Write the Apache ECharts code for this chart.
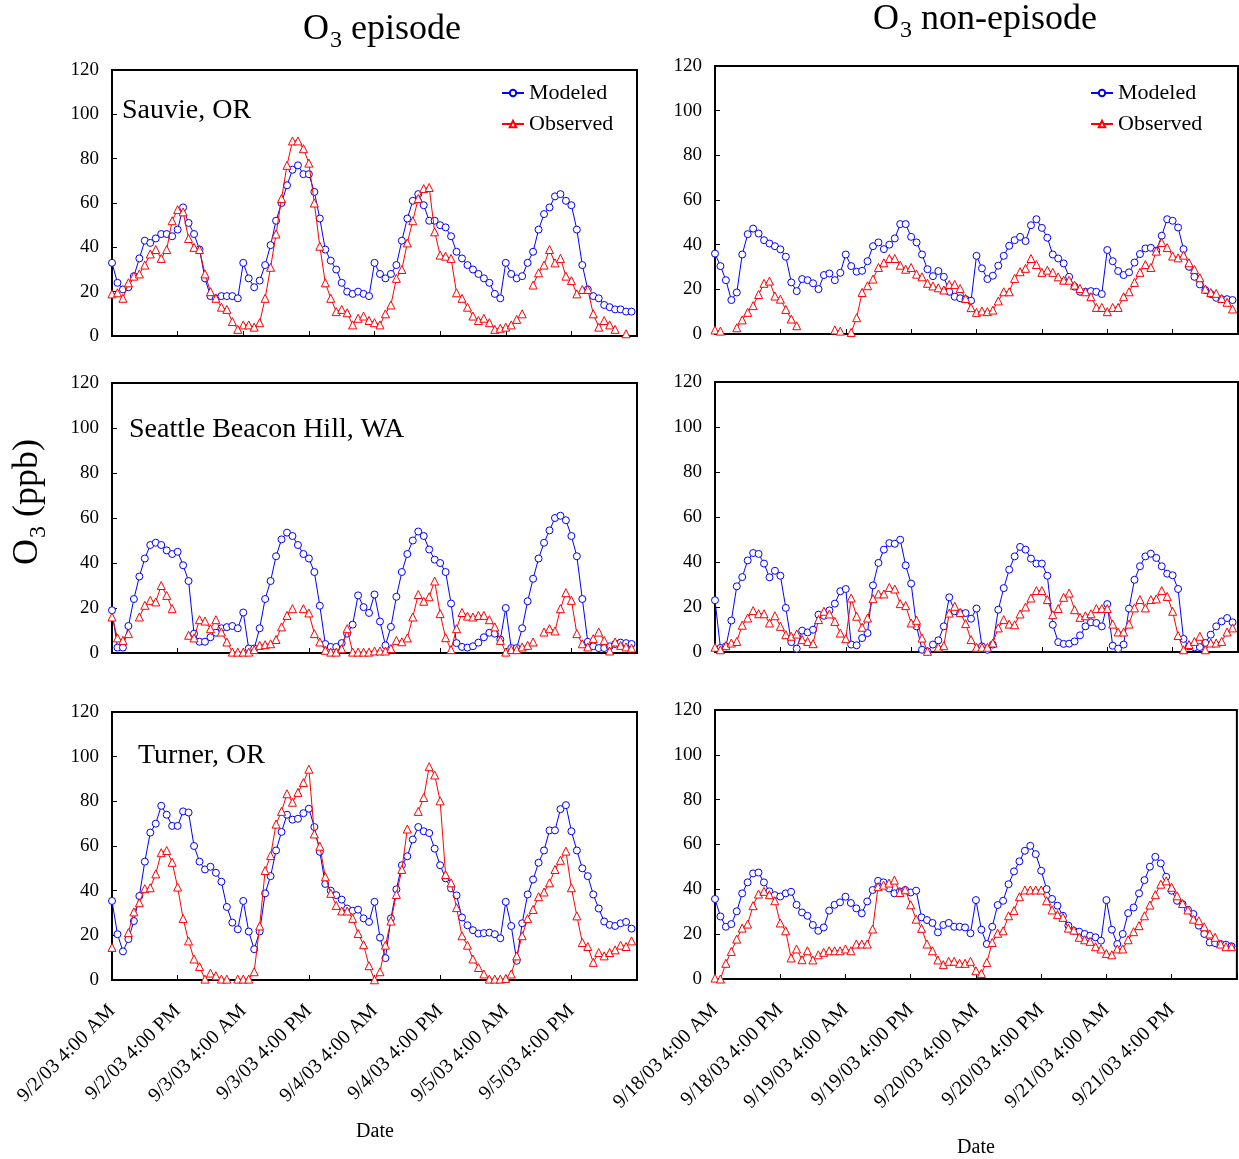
<!DOCTYPE html>
<html><head><meta charset="utf-8">
<script src="https://cdn.jsdelivr.net/npm/echarts@6.0.0/dist/echarts.min.js"></script>
<style>html,body{margin:0;padding:0;background:#fff}#c{width:1239px;height:1159px}</style>
</head><body><div id="c"></div>
<script>
// ---- tick labels (every 12 hours) ----
const episodeTickLabels = ['9/2/03 4:00 AM','9/2/03 4:00 PM','9/3/03 4:00 AM','9/3/03 4:00 PM','9/4/03 4:00 AM','9/4/03 4:00 PM','9/5/03 4:00 AM','9/5/03 4:00 PM'];
const nonEpisodeTickLabels = ['9/18/03 4:00 AM','9/18/03 4:00 PM','9/19/03 4:00 AM','9/19/03 4:00 PM','9/20/03 4:00 AM','9/20/03 4:00 PM','9/21/03 4:00 AM','9/21/03 4:00 PM'];
const siteNames = ['Sauvie, OR','Seattle Beacon Hill, WA','Turner, OR'];

// ---- hourly O3 (ppb) ----
const sauvieEpiModeled = [33,24,21,22,27,35,43,42,44,46,46,45,48,58,51,46,39,26,18,17,18,18,18,17,33,26,22,25,32,41,52,60,68,75,77,73,73,65,53,39,34,30,24,20,19,20,19,18,
 33,28,26,28,32,43,53,61,64,59,52,52,50,49,45,38,35,32,30,28,26,24,19,17,33,28,26,27,33,38,48,55,58,63,64,61,59,48,32,21,18,17,14,13,12,12,11,11];
const sauvieEpiObserved = [19,19.5,17,24,27,28,32,37,39,35,39,52,57,56,44,40,39,28,20,17,13,12,6.5,3,5,5,4,6,17,31,46,62,77,88,88,84.5,78,60,40.5,24,17,11,12,10.5,5,8,9,7,
 6,5,10,14,26,30,42,52,62,66.5,67,47,36.5,36,35,19.5,17,13,9,7,8,6,3,3.5,4,5,7.5,10,null,23,28.5,32,39,33,35,27,25,19,21,21,10,4,7,5,3,null,1,null];
const seattleEpiModeled = [19,2.4,2.4,12,24,34,42,48,49,48,45.6,44,45,39,32,8.6,5,5,7,9,11,11.5,12,11,18,2,2,11,24,32,43,50.5,53.5,52,48,44,42,36,21,4,2.7,2.7,4.4,8.6,12.6,25.6,20.4,17.8,
 26,14,3.4,11.6,25,36,44,50,54,52,46,41.5,40,36,22,4.4,2.7,2.4,3,4.6,7,9,8.6,6,20,2.2,2.2,11,23,33,42,49,54.5,60,61,59,52,43,24,5,3,2.2,2.2,3,4,4.6,4.4,4];
const seattleEpiObserved = [16,6.7,5.6,8.6,null,16,21.2,23.4,22.7,30,25.6,19.7,null,null,7.9,6.7,14.8,14.2,10.8,14.8,9.3,4.9,0.4,0.4,0.4,0.4,1.5,3.4,3.7,4.1,6,11.6,16.7,19.7,null,19.7,17.8,8.6,4.9,1.2,0.4,0.4,1.9,10.8,0.4,0.4,0.4,0.4,
 0.9,0.9,0.9,2,5.6,5,6.7,16,26,23,25,32,17.5,6.8,1.5,10.8,18,16.4,16,16.7,16.7,14.8,11.6,5.6,0.4,1.5,1.5,2.7,3.4,4.9,null,9.3,10.8,9.8,19.7,26.8,23.4,8.6,4.1,2.7,6.4,9.3,5.6,0.9,4.9,3.4,2.7,2.2];
const turnerEpiModeled = [35.4,20.5,12.8,18.3,26.4,37.6,53,66,70,78,74,69,69,75.5,75,60,53,49.5,50.7,48,44,32.7,25.7,22.7,35.4,21.7,13.8,21.7,38.8,46.5,58,66.3,74,71.8,72.2,74.7,76.7,68.5,57.4,43,40,38,36,32,31,31.5,27.6,26,
 35,19,9.8,27.6,40.6,51.4,55.4,62.9,68.5,66.6,65.8,58.8,51.4,45.5,41,37.9,28,24.5,22.3,20.8,21,21.2,20.5,18.7,35,24.2,8.6,25.4,38.3,45,52.5,58,67,67,76.5,78.3,66.6,58,50,46.5,38.3,32,26.2,24.7,24.2,25.4,26,23];
const turnerEpiObserved = [14.6,null,null,21.2,30.5,34.6,40.9,41.3,47.5,57,58,52.7,41.6,27.5,17.5,9.4,6,0.4,3.1,1.9,0.4,0.4,null,0.4,0.4,0.4,3.7,24.2,49,55.7,69.8,75.5,83.4,79.6,84,88.4,94.4,65.4,59.9,46.2,38.8,33.4,30.9,30.9,27.6,20.8,15.8,6.4,
 0.1,3.7,15.6,26.4,38.3,49.5,67.6,null,75.5,81.7,95.5,91.8,80.2,47.2,43.5,32.4,19.8,15.6,9.4,5.6,2.7,0.4,0.4,0.4,0.7,2.7,10.8,19.8,27.5,31.6,37.3,39.4,43.5,49.5,53.6,57.7,41.3,28.7,16.8,15,7.9,12.3,10.8,12.3,13.5,15.6,15,17.5];
const sauvieNonModeled = [36,30.4,24.1,15.2,18.6,35.6,44.7,47.2,45,42,40.5,39.3,37.9,34.6,23.1,19.2,24.6,24.1,22.7,20.1,26.4,27.1,24.1,27.4,35.6,30.4,27.9,28.3,32.6,39.3,41,38,40,42.8,49.2,49.2,43.5,41,35.6,29,25.9,28.2,25.6,18.9,16.7,16,15.6,14.9,
 35,29.4,24.6,26.1,30.6,35,39.5,42,43.5,41.6,48.7,51.4,47.5,43.1,35.6,33.8,31.6,25.6,21.2,18.9,18.9,19.2,18.9,17.9,37.6,32.6,28.2,26.4,27.6,32,35.8,38.3,38.6,37.3,44,51.4,50.7,47.7,38,30.1,25.6,22.2,19.7,17.9,16.2,15.6,15.6,15.2];
const sauvieNonObserved = [1.8,1.3,null,null,2.8,6.3,9.7,12.7,17.7,22.7,23.7,17,15.6,11,6.7,3.7,null,null,null,null,null,null,1.8,1.3,null,0.7,7.3,18.6,21.6,24.6,29.8,31.9,33.8,33.8,30.8,29,29.8,26.8,25.6,22.7,21.5,20.7,19.7,22.2,22.2,20.4,15.9,11.8,
 9.7,10.3,10,10.7,14.8,18.9,18.9,24.9,27.9,29.4,33.8,31.1,27.6,28.6,27.6,25.6,24.1,24.1,21.9,20.4,18.9,16.7,11.9,11.9,10,11.9,11.9,16.7,18.9,23.1,27.6,31.1,29.8,37.1,41,38.7,34.9,34.1,35.3,31.9,28.9,25.2,20.1,18.6,18.2,15.9,14.2,11.2];
const seattleNonModeled = [23,1.8,2.5,14,29.2,33.3,40.7,44,43.6,39.3,33.2,36.1,33.9,19.6,4.4,1.5,9.5,8.7,9.9,16.6,16.1,18.5,21.5,27,28,3.3,3,6.2,8.4,29.6,39.6,45.5,48.4,48.1,49.9,38.5,30.4,11.4,1,0.3,3.3,5.2,11.4,24.3,18.1,17.3,17.3,14.8,
 19.3,2.5,1,3.3,18.8,28.4,36.6,42.5,46.7,45.5,41.5,39.3,39.3,33.9,12.1,4.4,3.6,3.7,4.7,7.4,11.4,13.2,12.9,11.4,21.3,2.8,1.5,3.3,19.3,32.1,38.1,42.5,43.7,41.8,38.1,34.8,34.1,28,5.8,2.5,2.1,2.2,4,7.7,11.4,13.6,15.1,13.2];
const seattleNonObserved = [2.1,1,2.8,4,4.7,11.9,15.1,18.4,17,17,12.9,16.1,11.4,7.7,7,8,5.5,4.7,3.7,14.4,18.1,16.9,13.6,8.4,5.9,24,15.9,11,15.1,23.7,25.8,25.8,28.7,28,21.5,20.6,12.9,14.1,6.2,0.3,null,2.1,2.8,17.3,20.3,17.6,12.6,5.5,
 2.1,2.1,2.1,4,10.7,14.4,12.4,12.1,16.9,20,24,27.3,27.3,23.3,16.6,19.3,24.3,26.2,18.8,15.4,16.1,17,19.3,19.3,19.3,12.4,8.9,8.9,12.4,19.6,23.3,19.6,23.3,23.6,27.3,24.7,18.1,7.3,1,3.3,4.7,7,1,4,4,4.7,8.9,10.7];
const turnerNonModeled = [35.7,27.9,23.3,24.5,30.2,38.2,43.1,47.1,47.5,43.1,39.1,37.4,36.8,38.2,38.9,33.1,29.7,28.2,24.1,21.5,23,30.5,33.1,34.2,36.7,33.9,31.5,29.3,34.6,39.7,43.8,43.1,40.4,38.2,39.1,39.7,38.6,39.4,27.5,26.3,25,20.8,24.1,25,23.3,23.3,23,20.4,
 35.2,22,15.6,23.3,33,34.9,42.3,48,52.5,57.2,59.4,55.7,48.3,40.1,35.7,32.7,28.2,23.8,21.5,21.1,20.1,19.3,18.6,17.1,35.2,22,15.6,20.1,29.4,31.9,38.2,44.1,50.1,54.5,51.6,45.6,39.4,34.9,33.4,30.9,29,23.8,20.1,16.3,16,15.6,15.3,14.6];
const turnerNonObserved = [0.4,0,7,12.3,17.8,22.7,24.5,32.7,37.9,39.1,37.6,34.9,25,21.5,9.4,13.4,8.6,12.6,8.5,10.8,11.9,12.6,12.6,12.6,13.4,12.6,15.6,15.6,15.6,22.3,41.2,41.9,42.8,44.1,38.6,39.8,33.1,26.7,22.6,15.6,12.6,8.5,6.4,7.9,7.9,7,7,7.9,
 3.7,2.5,7.4,16.3,20.4,21.5,28.2,30.5,36.7,39.7,39.7,39.7,39.7,34.9,30.8,28.7,27.5,22.7,21.8,18.6,17.5,16.8,14.4,13.4,11.4,10.8,13.4,13.4,17.5,21.1,23.8,28.2,33,37.6,42.3,43.8,40.9,37.1,33.7,30.8,26.7,26,23.3,20.1,18.6,15.6,14.4,14.4];

// ---- layout ----
const SERIF = '"Liberation Serif","Times New Roman",serif';
const HOURS = 97; // 96 hourly steps on the axis (4 days)
const categories = Array.from({length: HOURS}, (_, i) => String(i));

const panels = [
  {grid:{left:112, top:70,  width:525, height:266}, ticks:episodeTickLabels,    mod:sauvieEpiModeled,  obs:sauvieEpiObserved,  bottom:false},
  {grid:{left:112, top:383, width:525, height:270}, ticks:episodeTickLabels,    mod:seattleEpiModeled, obs:seattleEpiObserved, bottom:false},
  {grid:{left:112, top:712, width:525, height:268}, ticks:episodeTickLabels,    mod:turnerEpiModeled,  obs:turnerEpiObserved,  bottom:true},
  {grid:{left:715, top:66,  width:523, height:268}, ticks:nonEpisodeTickLabels, mod:sauvieNonModeled,  obs:sauvieNonObserved,  bottom:false},
  {grid:{left:715, top:382, width:523, height:270}, ticks:nonEpisodeTickLabels, mod:seattleNonModeled, obs:seattleNonObserved, bottom:false},
  {grid:{left:715, top:710, width:523, height:269}, ticks:nonEpisodeTickLabels, mod:turnerNonModeled,  obs:turnerNonObserved,  bottom:true}
];

const grids = [], xAxes = [], yAxes = [], series = [];
panels.forEach((p, i) => {
  grids.push(Object.assign({show:true, borderColor:'#000', borderWidth:2, backgroundColor:'#fff'}, p.grid));
  xAxes.push({
    type:'category', gridIndex:i, data:categories, boundaryGap:false,
    axisLine:{show:true, lineStyle:{color:'#000', width:2}},
    axisTick:{show:true, inside:true, length:5, interval:11, lineStyle:{color:'#000', width:1}},
    axisLabel:{show:p.bottom, interval:11, rotate:45, margin:28, color:'#000', fontFamily:SERIF, fontSize:20,
      formatter:(v, idx) => (idx % 12 === 0 && p.ticks[idx/12]) ? p.ticks[idx/12] : ''},
    splitLine:{show:false}
  });
  yAxes.push({
    type:'value', gridIndex:i, min:0, max:120, interval:20,
    axisLine:{show:true, lineStyle:{color:'#000', width:2}},
    axisTick:{show:true, inside:true, length:5, lineStyle:{color:'#000', width:1}},
    axisLabel:{color:'#000', fontFamily:SERIF, fontSize:19, margin:13},
    splitLine:{show:false}
  });
  const mk = (name, data, isMod) => {
    const c = isMod ? '#0000ff' : '#ff0000';
    return {type:'line', name, xAxisIndex:i, yAxisIndex:i, data,
      symbol: isMod ? 'circle' : 'triangle', symbolSize: isMod ? 7 : 8,
      showSymbol:true, showAllSymbol:true, connectNulls:false,
      lineStyle:{color:c, width:1}, itemStyle:{color:'#fff', borderColor:c, borderWidth:1},
      emphasis:{disabled:true}, z: isMod ? 2 : 3};
  };
  series.push(mk('Modeled', p.mod, true));
  series.push(mk('Observed', p.obs, false));
});

const legendBase = {data:['Modeled','Observed'], orient:'vertical', itemWidth:22, itemHeight:8, itemGap:9,
  selectedMode:false, textStyle:{fontFamily:SERIF, fontSize:22, color:'#000'}};

function subText(x, y, main, sub, tail, size, subSize, rot) {
  return {type:'group', x, y, rotation: rot || 0, children:[
    {type:'text', x:0, y:0, style:{text:main, font:size+'px '+SERIF, fill:'#000', verticalAlign:'middle', align:'left'}},
    {type:'text', x:size*0.72+1, y:size*0.3, style:{text:sub, font:subSize+'px '+SERIF, fill:'#000', verticalAlign:'middle', align:'left'}},
    {type:'text', x:size*0.72+subSize*0.5+size*0.28, y:0, style:{text:tail, font:size+'px '+SERIF, fill:'#000', verticalAlign:'middle', align:'left'}}
  ]};
}
const label = (x, y, t, s, align) => ({type:'text', x, y, style:{text:t, font:s+'px '+SERIF, fill:'#000', verticalAlign:'middle', align:align||'left'}});

const graphics = [
  subText(303, 30, 'O', '3', 'episode', 36, 24),
  subText(873, 20, 'O', '3', 'non-episode', 36, 24),
  subText(28, 565, 'O', '3', '(ppb)', 36, 24, Math.PI/2),
  label(122, 111, siteNames[0], 28),
  label(129, 430, siteNames[1], 28),
  label(138, 756, siteNames[2], 28),
  label(375, 1132, 'Date', 20, 'center'),
  label(976, 1148, 'Date', 20, 'center')
];

const chart = echarts.init(document.getElementById('c'), null, {renderer:'canvas'});
chart.setOption({
  animation:false,
  backgroundColor:'#fff',
  grid:grids, xAxis:xAxes, yAxis:yAxes, series,
  legend:[Object.assign({left:496, top:77}, legendBase), Object.assign({left:1085, top:77}, legendBase)],
  graphic:graphics
});
</script></body></html>
